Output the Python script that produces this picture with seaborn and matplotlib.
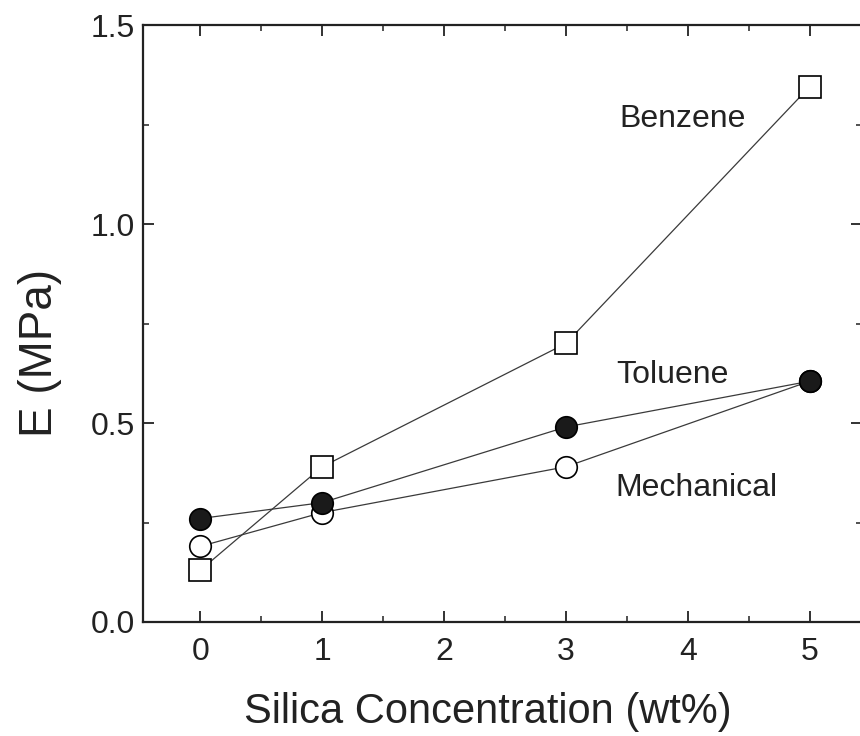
import numpy as np
import pandas as pd
import matplotlib
matplotlib.use("Agg")
import matplotlib.pyplot as plt
from matplotlib.ticker import MultipleLocator
import seaborn as sns

# values
silica = [0, 1, 3, 5]
benzene = [0.13, 0.39, 0.70, 1.345]
mechanical = [0.19, 0.275, 0.39, 0.605]
toluene = [0.26, 0.30, 0.49, 0.605]

sns.set_style("ticks")
plt.rcParams["font.family"] = ["Liberation Sans", "DejaVu Sans"]

fig = plt.figure(figsize=(8.6, 7.36), dpi=100)
ax = fig.add_axes([0.1663, 0.1549, 0.836, 0.811])

line_kw = dict(color="#3a3a3a", linewidth=0.9, markersize=15.5,
               markeredgecolor="black", markeredgewidth=1.2, ax=ax)

sns.lineplot(x=silica, y=benzene, marker="s", markerfacecolor="white", **line_kw)
sns.lineplot(x=silica, y=mechanical, marker="o", markerfacecolor="white", **line_kw)
sns.lineplot(x=silica, y=toluene, marker="o", markerfacecolor="#1a1a1a", **line_kw)

ax.set_xlim(-0.47, 5.43)
ax.set_ylim(0, 1.5)
ax.xaxis.set_major_locator(MultipleLocator(1))
ax.xaxis.set_minor_locator(MultipleLocator(0.5))
ax.yaxis.set_major_locator(MultipleLocator(0.5))
ax.yaxis.set_minor_locator(MultipleLocator(0.25))
ax.yaxis.set_major_formatter(matplotlib.ticker.FormatStrFormatter("%.1f"))

ax.tick_params(which="both", direction="in", top=True, right=True, colors="#222222")
ax.tick_params(which="major", length=8, width=1.3, labelsize=23, labelcolor="#222222")
ax.tick_params(which="minor", length=4.5, width=1.1)
ax.tick_params(axis="x", which="major", pad=11)
ax.tick_params(axis="y", which="major", pad=6)
for sp in ax.spines.values():
    sp.set_linewidth(1.6)
    sp.set_color("#222222")

ax.set_xlabel("Silica Concentration (wt%)", fontsize=30, color="#222222")
ax.set_ylabel("E (MPa)", fontsize=33, color="#222222")
ax.xaxis.set_label_coords(0.48, -0.118)
ax.yaxis.set_label_coords(-0.112, 0.45)

ax.text(3.44, 1.265, "Benzene", fontsize=23, va="center", color="#222222")
ax.text(3.41, 0.62, "Toluene", fontsize=23, va="center", color="#222222")
ax.text(3.41, 0.337, "Mechanical", fontsize=23, va="center", color="#222222")

fig.savefig("out.png", dpi=100)
